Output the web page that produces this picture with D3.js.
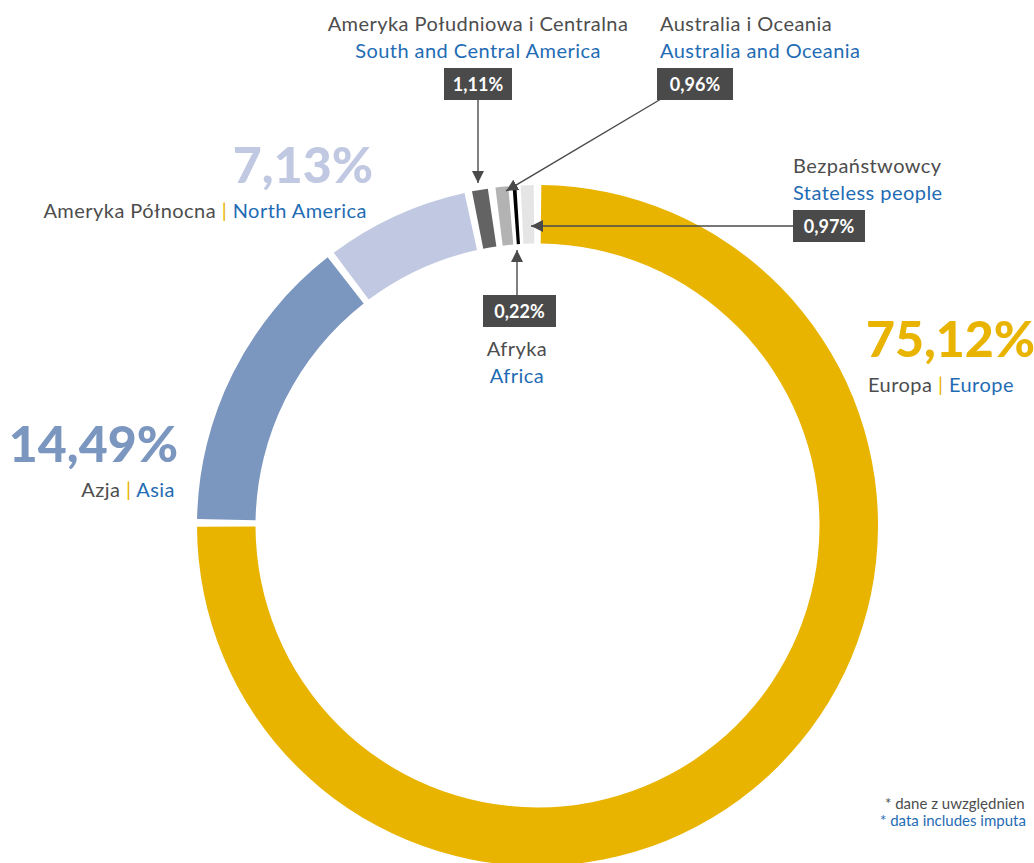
<!DOCTYPE html>
<html lang="pl">
<head>
<meta charset="UTF-8"/>
<title>Struktura wg kontynentów</title>
<script src="https://cdn.jsdelivr.net/npm/d3@7"></script>
<style>
  * { margin:0; padding:0; box-sizing:border-box }
  body { background:#fff; font-family:'Lato','Open Sans',sans-serif; }
  svg { display:block; }
  .pl { fill:#4d4d4d; }
  .en { fill:#1f6cb4; }
  .sep { fill:#e8b400; }
  .lbl { font-size:20px; letter-spacing:0.45px; }
  .box text { fill:#fff; font-weight:700; }
</style>
</head>
<body>
<div id="chart"></div>
<script>
// ── data ────────────────────────────────
const namesPl = ["Europa","Azja","Ameryka Północna","Ameryka Południowa i Centralna","Australia i Oceania","Afryka","Bezpaństwowcy"];
const namesEn = ["Europe","Asia","North America","South and Central America","Australia and Oceania","Africa","Stateless people"];
const shares  = [75.12, 14.49, 7.13, 1.11, 0.96, 0.22, 0.97];
const colors  = ["#e8b400","#7b96bf","#c0c9e1","#636363","#b3b3b3","#000000","#e5e5e5"];
// footnote, as far as it is visible in the original
const footPl = "* dane z uwzględnien";
const footEn = "* data includes imputa";

const fmt = v => d3.format(".2f")(v).replace(".", ",") + "%";

// ── setup ───────────────────────────────
const W = 1034, H = 863;
const cx = 537.5, cy = 525.5, R = 340.5, r = 282;

const svg = d3.select("#chart").append("svg")
  .attr("width", W).attr("height", H);

const defs = svg.append("defs");
defs.append("marker")
  .attr("id","arr").attr("viewBox","0 0 12 12")
  .attr("refX",12).attr("refY",6)
  .attr("markerWidth",12).attr("markerHeight",12)
  .attr("markerUnits","userSpaceOnUse")
  .attr("orient","auto")
  .append("path").attr("d","M0,0 L12,6 L0,12 Z").attr("fill","#4a4a4a");

const pie = d3.pie().sort(null).value(d => d)(shares);
const arc = d3.arc().innerRadius(r).outerRadius(R);

const gapA = 7 / 311, minA = 3.5 / 311;
const g = svg.append("g").attr("transform", `translate(${cx},${cy})`);
g.selectAll("path")
  .data(pie)
  .join("path")
  .attr("fill", (d,i) => colors[i])
  .attr("d", d => {
    const span = d.endAngle - d.startAngle;
    let half = gapA / 2;
    if (span - 2*half < minA) half = (span - minA) / 2;
    return arc({startAngle: d.startAngle + half, endAngle: d.endAngle - half});
  });

// ── big labels ──────────────────────────
function bigLabel(i, x, y, anchor, subX) {
  svg.append("text")
    .attr("x", x).attr("y", y).attr("text-anchor", anchor)
    .attr("fill", colors[i]).attr("font-size", 50).attr("font-weight", 900)
    .text(fmt(shares[i]));
  const t = svg.append("text").attr("class","lbl")
    .attr("x", subX).attr("y", y + 35).attr("text-anchor", anchor);
  t.append("tspan").attr("class","pl").text(namesPl[i]);
  t.append("tspan").attr("class","sep").text(" | ");
  t.append("tspan").attr("class","en").text(namesEn[i]);
}
bigLabel(0, 866, 357, "start", 868);
bigLabel(1, 178, 462, "end", 175);
bigLabel(2, 373, 183, "end", 367);

// ── small labels with boxes ─────────────
function box(i, x, y, w) {
  const b = svg.append("g").attr("class","box");
  b.append("rect").attr("x", x).attr("y", y).attr("width", w).attr("height", 32).attr("fill","#4a4a4a");
  b.append("text").attr("x", x + w/2).attr("y", y + 23).attr("text-anchor","middle")
    .attr("font-size", 18).text(fmt(shares[i]));
}
function names(i, x, y, anchor) {
  svg.append("text").attr("class","pl lbl").attr("x", x).attr("y", y)
    .attr("text-anchor", anchor).text(namesPl[i]);
  svg.append("text").attr("class","en lbl").attr("x", x).attr("y", y + 27)
    .attr("text-anchor", anchor).text(namesEn[i]);
}
function arrow(x1, y1, x2, y2) {
  svg.append("line").attr("x1", x1).attr("y1", y1).attr("x2", x2).attr("y2", y2)
    .attr("stroke","#4a4a4a").attr("stroke-width",1.4).attr("marker-end","url(#arr)");
}

// South & Central America
names(3, 478, 31, "middle");
box(3, 444, 68, 68);
arrow(478, 100, 478, 183);

// Australia & Oceania
names(4, 660, 31, "start");
box(4, 657, 68, 76);
arrow(661, 99, 506, 191);

// Stateless
names(6, 793, 173, "start");
box(6, 793, 210, 72);
arrow(793, 226, 531, 226);

// Africa
box(5, 483, 295, 73);
arrow(517, 295, 517, 250);
names(5, 517, 356, "middle");

// ── footnote ────────────────────────────
svg.append("text").attr("class","pl").attr("x", 885).attr("y", 809)
  .attr("font-size", 15).text(footPl);
svg.append("text").attr("class","en").attr("x", 880).attr("y", 826)
  .attr("font-size", 15).text(footEn);
</script>
</body>
</html>
